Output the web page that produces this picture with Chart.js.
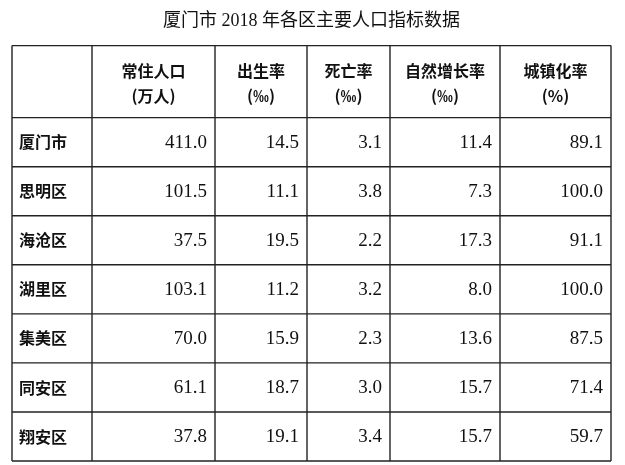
<!DOCTYPE html>
<html><head><meta charset="utf-8">
<script src="https://cdn.jsdelivr.net/npm/chart.js@4/dist/chart.umd.min.js"></script>
<style>html,body{margin:0;background:#fff}#wrap{width:625px;height:465px}</style>
</head><body><div id="wrap"><canvas id="c"></canvas></div>
<script>
const title = '厦门市 2018 年各区主要人口指标数据';
const headers = [['常住人口', '(万人)'], ['出生率', '(‰)'], ['死亡率', '(‰)'], ['自然增长率', '(‰)'], ['城镇化率', '(%)']];
const districts = ['厦门市', '思明区', '海沧区', '湖里区', '集美区', '同安区', '翔安区'];
const population = [411.0, 101.5, 37.5, 103.1, 70.0, 61.1, 37.8];
const birthRate = [14.5, 11.1, 19.5, 11.2, 15.9, 18.7, 19.1];
const deathRate = [3.1, 3.8, 2.2, 3.2, 2.3, 3.0, 3.4];
const growthRate = [11.4, 7.3, 17.3, 8.0, 13.6, 15.7, 15.7];
const urbanRate = [89.1, 100.0, 91.1, 100.0, 87.5, 71.4, 59.7];

// table layout in scale units
const colEdges = [0, 80, 203, 295, 378, 488, 599];
const rowEdges = [0, 72, 121, 170, 219, 268, 317, 366, 415];
const series = [population, birthRate, deathRate, growthRate, urbanRate];

const tablePlugin = {
    id: 'table',
    afterDraw(chart) {
        const ctx = chart.ctx, xs = chart.scales.x, ys = chart.scales.y;
        const X = v => xs.getPixelForValue(v), Y = v => ys.getPixelForValue(v);
        ctx.save();
        ctx.strokeStyle = '#222';
        ctx.lineWidth = 1.4;
        colEdges.forEach(c => { ctx.beginPath(); ctx.moveTo(X(c), Y(0)); ctx.lineTo(X(c), Y(415)); ctx.stroke(); });
        rowEdges.forEach(r => { ctx.beginPath(); ctx.moveTo(X(0), Y(r)); ctx.lineTo(X(599), Y(r)); ctx.stroke(); });
        ctx.fillStyle = '#111';
        ctx.textBaseline = 'middle';
        // header
        ctx.font = 'bold 16px "Noto Sans CJK SC"';
        ctx.textAlign = 'center';
        headers.forEach((h, i) => {
            const cx = (X(colEdges[i + 1]) + X(colEdges[i + 2])) / 2;
            ctx.fillText(h[0], cx, Y(25));
            ctx.fillText(h[1], cx, Y(50));
        });
        districts.forEach((d, r) => {
            const cy = (Y(rowEdges[r + 1]) + Y(rowEdges[r + 2])) / 2;
            ctx.font = 'bold 16px "Noto Sans CJK SC"';
            ctx.textAlign = 'left';
            ctx.fillText(d, X(7), cy);
            ctx.font = '19px "Liberation Serif"';
            ctx.textAlign = 'right';
            series.forEach((s, i) => ctx.fillText(s[r].toFixed(1), X(colEdges[i + 2]) - 8, cy + 1));
        });
        ctx.restore();
    }
};

new Chart(document.getElementById('c'), {
    type: 'scatter',
    data: { datasets: [{ data: [] }] },
    options: {
        responsive: true,
        maintainAspectRatio: false,
        animation: false,
        layout: { padding: { left: 12, right: 14, top: 2, bottom: 4 } },
        plugins: {
            legend: { display: false },
            tooltip: { enabled: false },
            title: {
                display: true, text: title, color: '#111',
                font: { family: '"Liberation Serif", "Noto Sans CJK SC"', size: 18, weight: 'normal' },
                padding: { top: 8, bottom: 14 }
            }
        },
        scales: {
            x: { type: 'linear', min: 0, max: 599, display: false },
            y: { type: 'linear', min: 0, max: 415, reverse: true, display: false }
        }
    },
    plugins: [tablePlugin]
});
</script></body></html>
